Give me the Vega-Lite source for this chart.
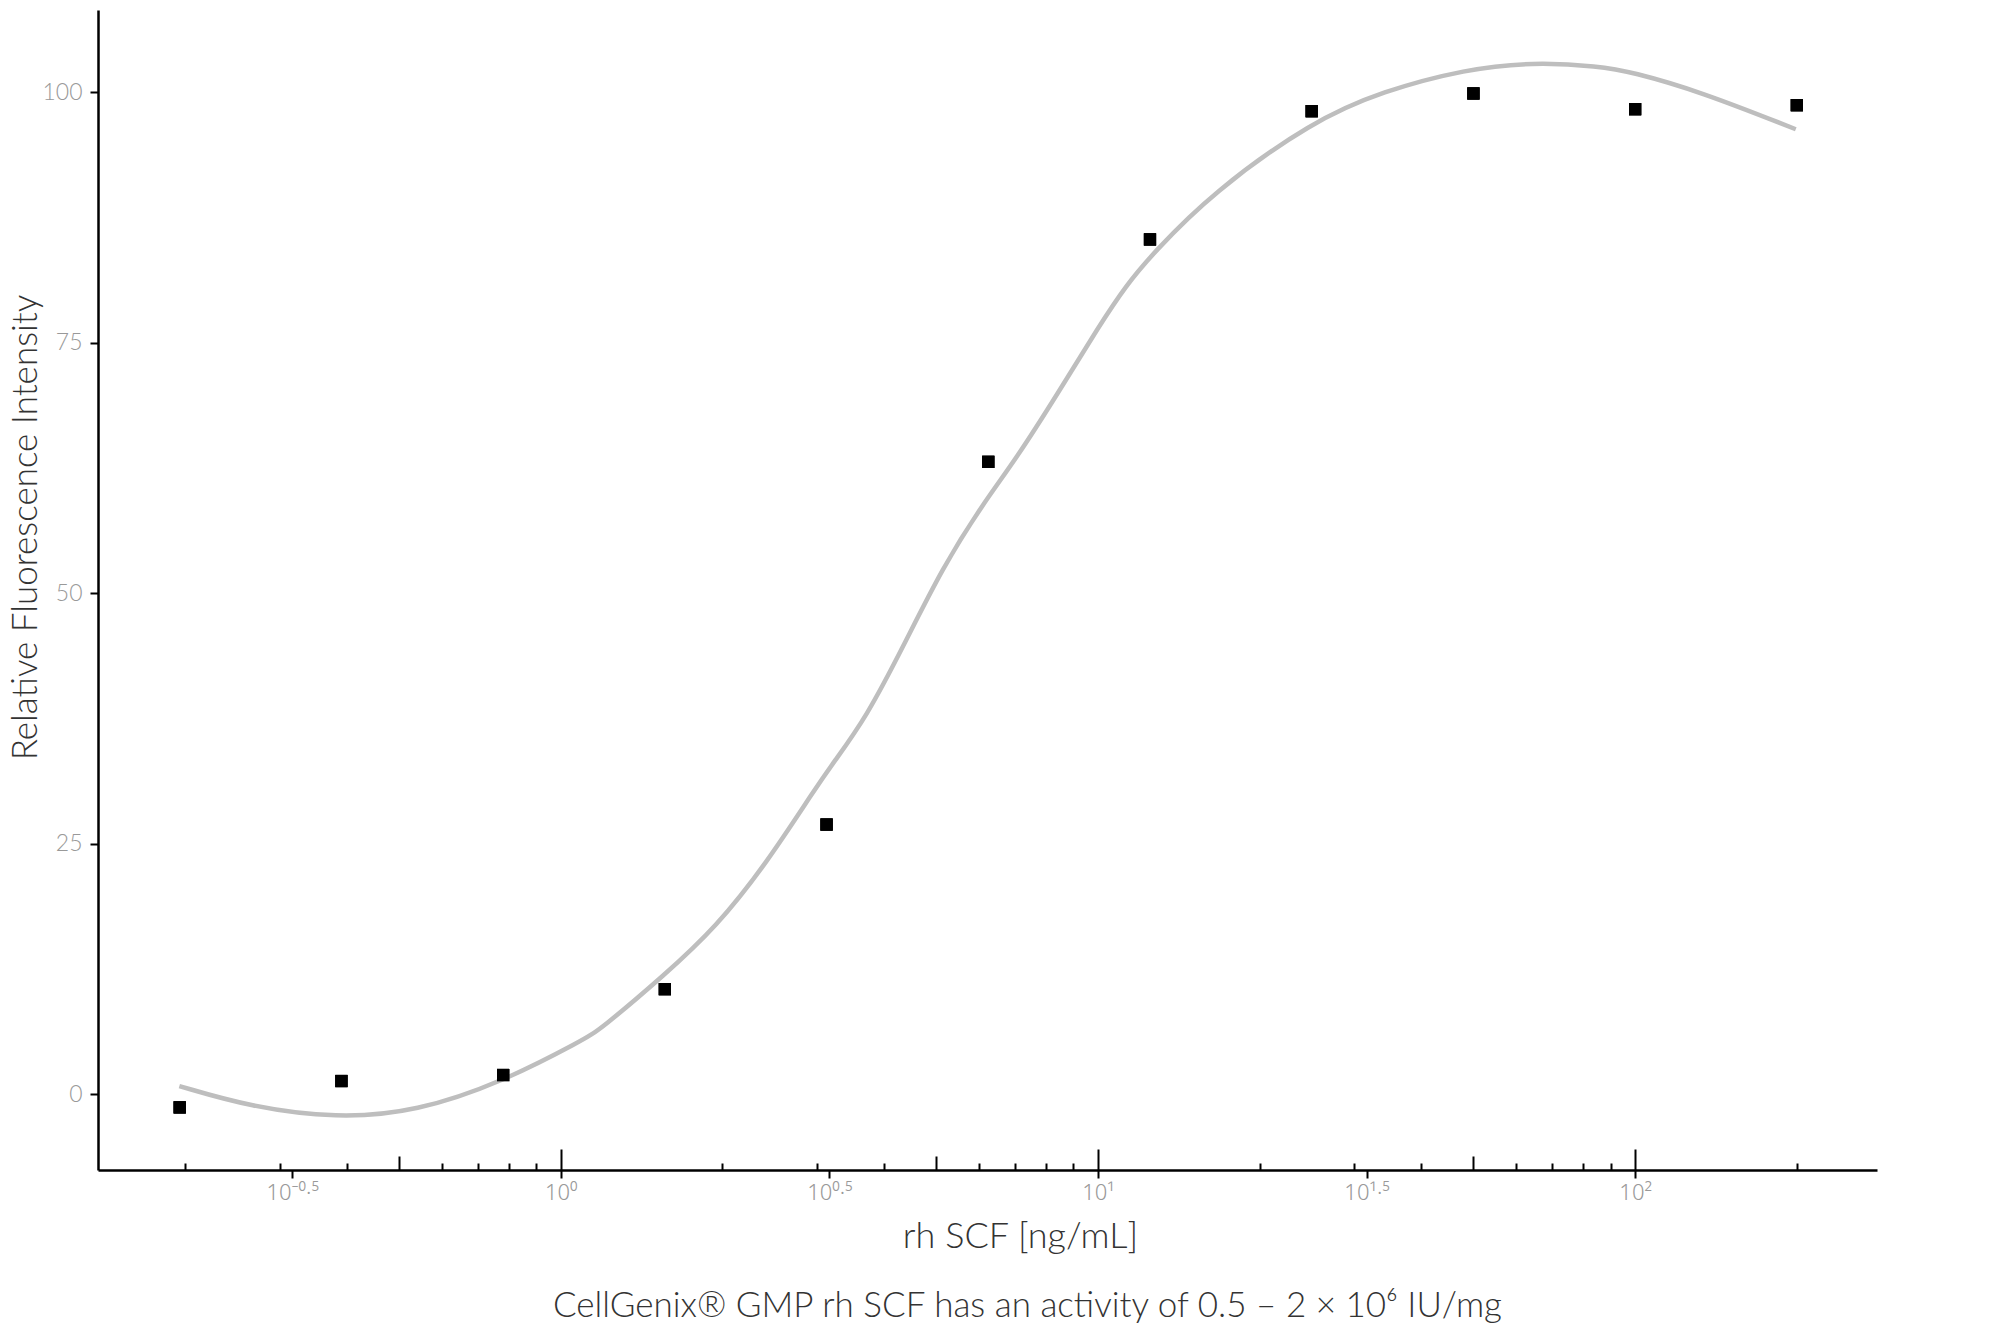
{
  "$schema": "https://vega.github.io/schema/vega-lite/v6.json",
  "width": 1779,
  "height": 1160,
  "autosize": {"type": "none"},
  "padding": {"left": 98, "top": 10, "right": 123, "bottom": 165},
  "background": "white",
  "config": {"view": {"stroke": null}, "font": "Lato"},
  "title": {
    "text": "CellGenix® GMP rh SCF has an activity of 0.5 – 2 × 10⁶ IU/mg",
    "orient": "bottom",
    "anchor": "middle",
    "frame": "group",
    "fontSize": 35,
    "fontWeight": 300,
    "color": "#333333",
    "offset": 35,
    "dx": 40
  },
  "datasets": {
    "measured": [
      {"conc": 0.1953125, "rfi": -1.33},
      {"conc": 0.390625, "rfi": 1.3},
      {"conc": 0.78125, "rfi": 1.9},
      {"conc": 1.5625, "rfi": 10.47},
      {"conc": 3.125, "rfi": 26.9},
      {"conc": 6.25, "rfi": 63.1},
      {"conc": 12.5, "rfi": 85.3},
      {"conc": 25, "rfi": 98.1},
      {"conc": 50, "rfi": 99.87},
      {"conc": 100, "rfi": 98.3},
      {"conc": 200, "rfi": 98.7}
    ],
    "fit": [
      {"conc": 0.195, "rfi": 0.8},
      {"conc": 0.264, "rfi": -1.27},
      {"conc": 0.383, "rfi": -2.43},
      {"conc": 0.539, "rfi": -1.76},
      {"conc": 0.781, "rfi": 1.23},
      {"conc": 1.1, "rfi": 5.39},
      {"conc": 1.182, "rfi": 6.4},
      {"conc": 1.562, "rfi": 11.9},
      {"conc": 1.949, "rfi": 16.7},
      {"conc": 2.414, "rfi": 23.0},
      {"conc": 2.991, "rfi": 30.65},
      {"conc": 3.211, "rfi": 33.0},
      {"conc": 3.705, "rfi": 37.6},
      {"conc": 4.334, "rfi": 44.6},
      {"conc": 5.143, "rfi": 52.6},
      {"conc": 6.106, "rfi": 58.9},
      {"conc": 7.044, "rfi": 63.4},
      {"conc": 8.481, "rfi": 70.2},
      {"conc": 10.06, "rfi": 76.7},
      {"conc": 11.28, "rfi": 80.7},
      {"conc": 12.65, "rfi": 83.9},
      {"conc": 16.35, "rfi": 90.0},
      {"conc": 25.09, "rfi": 97.1},
      {"conc": 33.88, "rfi": 100.1},
      {"conc": 48.42, "rfi": 102.3},
      {"conc": 64.41, "rfi": 103.0},
      {"conc": 85.71, "rfi": 102.6},
      {"conc": 98.72, "rfi": 102.0},
      {"conc": 131.5, "rfi": 100.1},
      {"conc": 199.1, "rfi": 96.3}
    ]
  },
  "layer": [
    {
      "data": {"name": "fit"},
      "mark": {"type": "line", "color": "#BEBEBE", "strokeWidth": 4.5, "interpolate": "basis"},
      "encoding": {
        "x": {
          "field": "conc",
          "type": "quantitative",
          "scale": {"type": "log", "domain": [0.1376, 282], "nice": false},
          "axis": {
            "orient": "bottom",
            "values": [0.316227766, 1, 3.16227766, 10, 31.6227766, 100],
            "labelExpr": "datum.value < 0.5 ? '10⁻⁰·⁵' : datum.value < 2 ? '10⁰' : datum.value < 5 ? '10⁰·⁵' : datum.value < 20 ? '10¹' : datum.value < 50 ? '10¹·⁵' : '10²'",
            "tickSize": 8,
            "tickWidth": 2,
            "tickColor": "black",
            "domainColor": "black",
            "domainWidth": 2.5,
            "labelFont": "Noto Sans",
            "labelFontSize": 22,
            "labelFontWeight": 300,
            "labelColor": "#999999",
            "labelPadding": 4,
            "grid": false,
            "title": "rh SCF [ng/mL]",
            "titleFontSize": 36,
            "titleFontWeight": 300,
            "titleColor": "#333333",
            "titleX": 922,
            "titleY": 77,
            "titleBaseline": "alphabetic"
          }
        },
        "y": {
          "field": "rfi",
          "type": "quantitative",
          "scale": {"domain": [-7.58, 108.2], "nice": false, "zero": false},
          "axis": {
            "values": [0, 25, 50, 75, 100],
            "tickSize": 8,
            "tickWidth": 2,
            "tickColor": "black",
            "domainColor": "black",
            "domainWidth": 2.5,
            "labelFontSize": 23,
            "labelFontWeight": 300,
            "labelColor": "#999999",
            "labelPadding": 8,
            "grid": false,
            "title": "Relative Fluorescence Intensity",
            "titleFontSize": 35,
            "titleFontWeight": 300,
            "titleColor": "#333333",
            "titleX": -62,
            "titleY": 517,
            "titleBaseline": "alphabetic"
          }
        }
      }
    },
    {
      "data": {"name": "measured"},
      "mark": {"type": "point", "shape": "square", "filled": true, "color": "black", "size": 150, "opacity": 1},
      "encoding": {
        "x": {
          "field": "conc",
          "type": "quantitative",
          "axis": {"orient": "bottom", "values": [1, 10, 100], "tickSize": -21, "tickWidth": 2, "tickColor": "black", "labels": false, "domain": false, "grid": false, "title": null}
        },
        "y": {"field": "rfi", "type": "quantitative"}
      }
    },
    {
      "data": {"name": "measured"},
      "mark": {"type": "point", "shape": "square", "filled": true, "color": "black", "size": 150, "opacity": 1},
      "encoding": {
        "x": {
          "field": "conc",
          "type": "quantitative",
          "axis": {"orient": "bottom", "values": [0.5, 5, 50], "tickSize": -14, "tickWidth": 2, "tickColor": "black", "labels": false, "domain": false, "grid": false, "title": null}
        },
        "y": {"field": "rfi", "type": "quantitative"}
      }
    },
    {
      "data": {"name": "measured"},
      "mark": {"type": "point", "shape": "square", "filled": true, "color": "black", "size": 150, "opacity": 1},
      "encoding": {
        "x": {
          "field": "conc",
          "type": "quantitative",
          "axis": {"orient": "bottom", "values": [0.2, 0.3, 0.4, 0.6, 0.7, 0.8, 0.9, 2, 3, 4, 6, 7, 8, 9, 20, 30, 40, 60, 70, 80, 90, 200], "tickSize": -7, "tickWidth": 2, "tickColor": "black", "labels": false, "domain": false, "grid": false, "title": null}
        },
        "y": {"field": "rfi", "type": "quantitative"}
      }
    }
  ],
  "resolve": {"axis": {"x": "independent"}}
}
